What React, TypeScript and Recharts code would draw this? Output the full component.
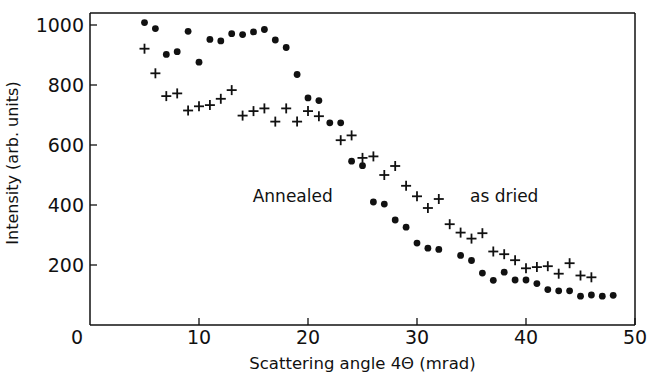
import { ScatterChart, Scatter, XAxis, YAxis, ReferenceLine, ReferenceDot } from 'recharts';

// scattering angle 4Θ (mrad) and intensity for the filled-dot series
const dotAngles = [5, 6, 7, 8, 9, 10, 11, 12, 13, 14, 15, 16, 17, 18, 19, 20, 21, 22, 23, 24, 25, 26, 27, 28, 29, 30, 31, 32, 34, 35, 36, 37, 38, 39, 40, 41, 42, 43, 44, 45, 46, 47, 48];
const dotIntensity = [1008, 988, 902, 911, 979, 876, 952, 947, 971, 968, 977, 985, 950, 925, 835, 757, 748, 674, 674, 546, 531, 410, 403, 350, 326, 273, 256, 252, 232, 215, 173, 149, 176, 150, 150, 138, 118, 114, 114, 96, 100, 96, 99];

// same for the "+" series
const crossAngles = [5, 6, 7, 8, 9, 10, 11, 12, 13, 14, 15, 16, 17, 18, 19, 20, 21, 23, 24, 25, 26, 27, 28, 29, 30, 31, 32, 33, 34, 35, 36, 37, 38, 39, 40, 41, 42, 43, 44, 45, 46];
const crossIntensity = [921, 839, 763, 772, 715, 729, 733, 754, 783, 698, 713, 722, 678, 722, 678, 713, 696, 616, 632, 557, 562, 500, 530, 464, 429, 390, 420, 336, 308, 288, 306, 245, 236, 216, 189, 193, 196, 171, 206, 165, 159];

const xTicks = [0, 10, 20, 30, 40, 50];
const yTicks = [0, 200, 400, 600, 800, 1000];

const dotData = dotAngles.map((x, i) => ({ x, y: dotIntensity[i] }));
const crossData = crossAngles.map((x, i) => ({ x, y: crossIntensity[i] }));

const FONT = '"DejaVu Sans", sans-serif';
const INK = '#111';

const DotShape = (props: any) => <circle cx={props.cx} cy={props.cy} r={3.4} fill={INK} />;

const CrossShape = (props: any) => {
  const { cx, cy } = props;
  return (
    <g stroke={INK} strokeWidth={1.8}>
      <line x1={cx - 5} y1={cy} x2={cx + 5} y2={cy} />
      <line x1={cx} y1={cy - 5} x2={cx} y2={cy + 5} />
    </g>
  );
};

const XTick = (props: any) => {
  const { x, y, payload } = props;
  if (payload.value === 0) {
    return (
      <text x={x - 13} y={y + 19} textAnchor="middle" fontSize={19} fontFamily={FONT} fill={INK}>0</text>
    );
  }
  return (
    <g>
      <line x1={x} y1={y} x2={x} y2={y - 7} stroke={INK} strokeWidth={1.3} />
      <text x={x} y={y + 19} textAnchor="middle" fontSize={19} fontFamily={FONT} fill={INK}>{payload.value}</text>
    </g>
  );
};

const YTick = (props: any) => {
  const { x, y, payload } = props;
  if (payload.value === 0) return <g />;
  return (
    <g>
      <line x1={x} y1={y} x2={x + 7} y2={y} stroke={INK} strokeWidth={1.3} />
      <text x={x - 6} y={y + 7} textAnchor="end" fontSize={19} fontFamily={FONT} fill={INK}>{payload.value}</text>
    </g>
  );
};

export default function App() {
  return (
    <div style={{ width: 650, height: 376, background: '#fff' }}>
      <style>{`body{margin:0}`}</style>
      <ScatterChart width={650} height={376} margin={{ top: 13, right: 15, bottom: 0, left: 0 }}>
        <XAxis
          type="number"
          dataKey="x"
          domain={[0, 50]}
          ticks={xTicks}
          tick={<XTick />}
          tickLine={false}
          tickSize={0}
          tickMargin={0}
          height={51}
          axisLine={{ stroke: INK, strokeWidth: 1.5 }}
          label={{ value: 'Scattering angle 4Θ (mrad)', position: 'insideBottom', offset: 7, fontSize: 16.5, fontFamily: FONT, fill: INK }}
        />
        <YAxis
          type="number"
          dataKey="y"
          domain={[0, 1040]}
          ticks={yTicks}
          tick={<YTick />}
          tickLine={false}
          tickSize={0}
          tickMargin={0}
          width={90}
          axisLine={{ stroke: INK, strokeWidth: 1.5 }}
          label={{ value: 'Intensity (arb. units)', angle: -90, position: 'insideLeft', offset: 12, dy: -6, fontSize: 16, fontFamily: FONT, fill: INK, style: { textAnchor: 'middle' } }}
        />
        <ReferenceLine y={1040} stroke={INK} strokeWidth={1.5} />
        <ReferenceLine x={50} stroke={INK} strokeWidth={1.5} />
        <Scatter data={dotData} shape={<DotShape />} isAnimationActive={false} />
        <Scatter data={crossData} shape={<CrossShape />} isAnimationActive={false} />
        <ReferenceDot x={18.6} y={430} r={0} stroke="none" label={{ value: 'Annealed', position: 'center', fontSize: 17, fontFamily: FONT, fill: INK }} />
        <ReferenceDot x={38} y={430} r={0} stroke="none" label={{ value: 'as dried', position: 'center', fontSize: 17, fontFamily: FONT, fill: INK }} />
      </ScatterChart>
    </div>
  );
}
